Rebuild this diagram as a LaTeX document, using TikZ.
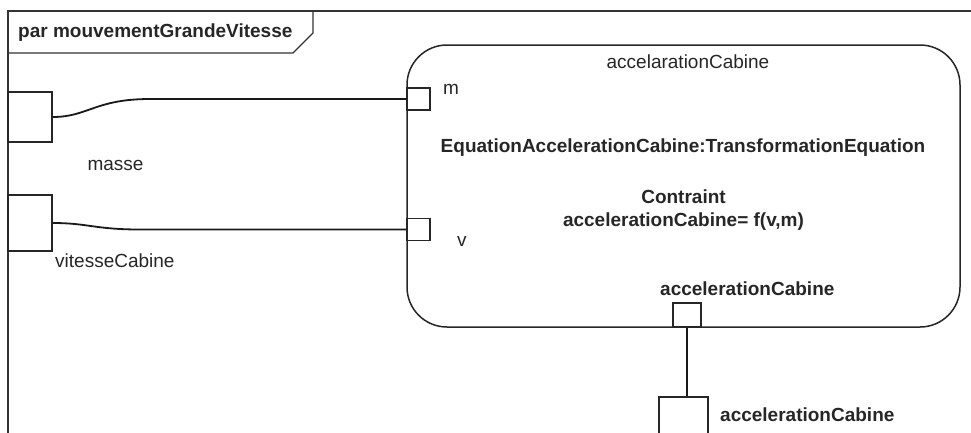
\documentclass[tikz,border=0pt]{standalone}
\usepackage{fontspec}
\setmainfont{Liberation Sans}
\begin{document}
\begin{tikzpicture}[x=1pt,y=-1pt,
  font=\fontsize{19}{22}\selectfont,
  every node/.style={text=black!85},
  frameline/.style={line width=1.3pt, draw=black!80},
  outline/.style={draw=black!85, line width=1.5pt},
  portbox/.style={outline, rectangle, fill=white, minimum width=23pt, minimum height=22pt, inner sep=0pt},
  partbox/.style={outline, rectangle, minimum width=44pt, inner sep=0pt},
  wire/.style={draw=black!90, line width=1.8pt},
  lbl/.style={inner sep=0pt}]
\useasboundingbox (0,0) rectangle (971,432);
\clip (0,0) rectangle (971,432);
% frame
\draw[frameline] (8,445) -- (8,11) -- (985,11);
\draw[frameline] (8,53) -- (293,53) -- (313,33) -- (313,11);
\node[lbl, anchor=base west] (title) at (18,37) {\bfseries par mouvementGrandeVitesse};
% constraint block
\node[outline, rectangle, rounded corners=40pt, minimum width=553pt, minimum height=282pt, inner sep=0pt] (blk) at (683.5,186) {};
\node[lbl, anchor=base] (bname) at (688,68) {accelarationCabine};
\node[lbl, anchor=base] (eqn) at (683,152) {\bfseries EquationAccelerationCabine:TransformationEquation};
\node[lbl, anchor=base] (ctr1) at (683.5,203) {\bfseries Contraint};
\node[lbl, anchor=base] (ctr2) at (683.5,226) {\bfseries accelerationCabine= f(v,m)};
\node[lbl, anchor=base west] (alab) at (660,295) {\bfseries accelerationCabine};
% ports
\node[portbox] (pm) at (418.5,99) {};
\node[portbox] (pv) at (418.5,229.5) {};
\node[portbox, minimum width=28pt, minimum height=24pt] (pa) at (687,315) {};
\node[lbl, anchor=base west] (mlab) at (443,94) {m};
\node[lbl, anchor=base west] (vlab) at (457,246) {v};
% parts
\node[partbox, minimum height=50pt] (mb) at (30,117) {};
\node[partbox, minimum height=56pt] (mv) at (30,223) {};
\node[outline, rectangle, minimum width=49pt, minimum height=60pt, inner sep=0pt] (ab) at (683.5,427) {};
\node[lbl, anchor=base] (masse) at (115.5,170) {masse};
\node[lbl, anchor=base west] (vit) at (55,267) {vitesseCabine};
\node[lbl, anchor=base west] (ablab) at (720,421) {\bfseries accelerationCabine};
% connectors
\coordinate (c1) at (150,99);
\coordinate (c2) at (140,229.5);
\draw[wire] (mb.east) .. controls +(35,0) and +(-55,0) .. (c1) -- (pm.west);
\draw[wire] (mv.east) .. controls +(35,0) and +(-45,0) .. (c2) -- (pv.west);
\draw[wire] (pa.south) -- (pa.south |- ab.north);
\end{tikzpicture}
\end{document}
